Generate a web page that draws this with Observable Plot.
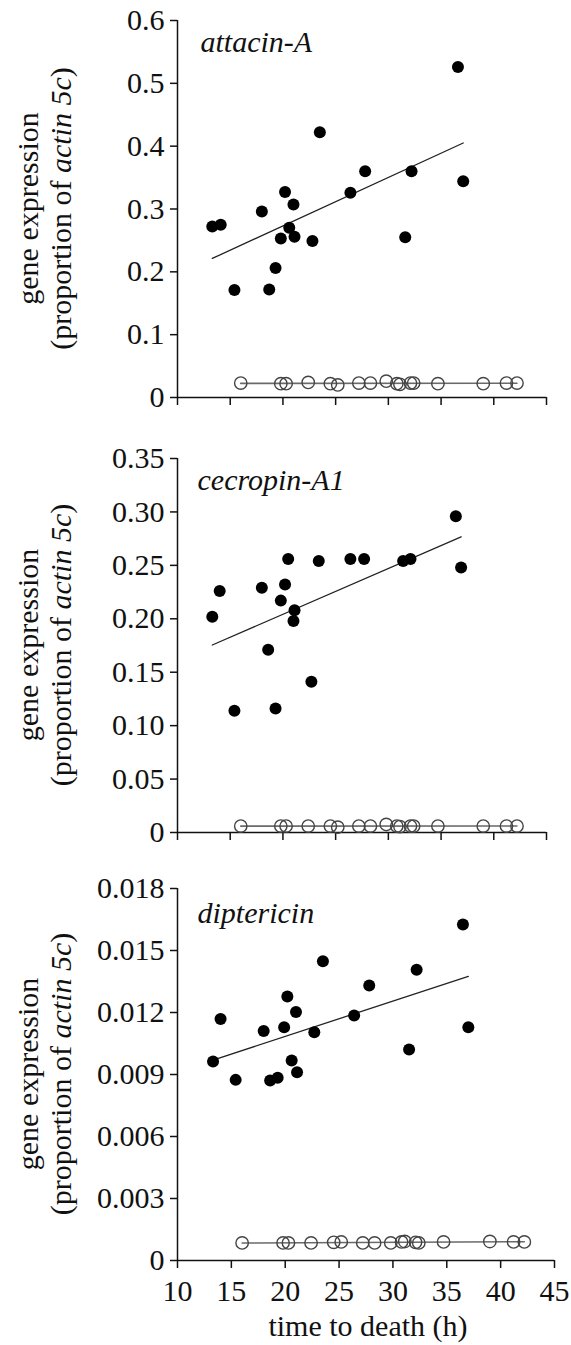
<!DOCTYPE html>
<html>
<head>
<meta charset="utf-8">
<script src="https://cdn.jsdelivr.net/npm/d3@7"></script>
<script src="https://cdn.jsdelivr.net/npm/@observablehq/plot@0.6"></script>
<style>
  html, body { margin: 0; padding: 0; background: #fff; }
  #chart svg { display: block; }
</style>
</head>
<body>
<div id="chart"></div>
<script>
// ---------- data ----------
const xDomain = [10, 45];
const xTicks = [10, 15, 20, 25, 30, 35, 40, 45];
const xTitle = "time to death (h)";

// open circles (second group) share time values
const openTimes = [16.0, 19.8, 20.3, 22.4, 24.5, 25.2, 27.2, 28.3, 29.8, 30.8, 31.1, 32.1, 32.4, 34.7, 39.0, 41.2, 42.2];

// attacin-A
const attName = "attacin-A";
const attTimes = [13.3, 14.1, 15.4, 18.0, 18.7, 19.3, 20.2, 19.8, 20.6, 21.0, 21.1, 22.8, 23.5, 26.4, 27.8, 31.6, 32.2, 36.6, 37.1];
const attValues = [0.272, 0.275, 0.171, 0.296, 0.172, 0.206, 0.327, 0.253, 0.270, 0.307, 0.256, 0.249, 0.422, 0.326, 0.360, 0.255, 0.360, 0.526, 0.344];
const attOpen = [0.023, 0.022, 0.022, 0.024, 0.022, 0.020, 0.023, 0.023, 0.026, 0.022, 0.021, 0.023, 0.023, 0.022, 0.022, 0.023, 0.023];
const attYDomain = [0, 0.6];
const attYTicks = [0, 0.1, 0.2, 0.3, 0.4, 0.5, 0.6];
const attYLabels = ["0", "0.1", "0.2", "0.3", "0.4", "0.5", "0.6"];

// cecropin-A1
const cecName = "cecropin-A1";
const cecTimes = [13.3, 14.0, 15.4, 18.0, 18.6, 19.3, 19.8, 20.2, 20.5, 21.1, 21.0, 22.7, 23.4, 26.4, 27.7, 31.4, 32.1, 36.4, 36.9];
const cecValues = [0.202, 0.226, 0.114, 0.229, 0.171, 0.116, 0.217, 0.232, 0.256, 0.208, 0.198, 0.141, 0.254, 0.256, 0.256, 0.254, 0.256, 0.296, 0.248];
const cecOpen = [0.006, 0.006, 0.006, 0.006, 0.006, 0.005, 0.006, 0.006, 0.0075, 0.006, 0.0055, 0.006, 0.006, 0.006, 0.006, 0.006, 0.006];
const cecYDomain = [0, 0.35];
const cecYTicks = [0, 0.05, 0.10, 0.15, 0.20, 0.25, 0.30, 0.35];
const cecYLabels = ["0", "0.05", "0.10", "0.15", "0.20", "0.25", "0.30", "0.35"];

// diptericin
const dipName = "diptericin";
const dipTimes = [13.3, 14.0, 15.4, 18.0, 18.6, 19.3, 19.9, 20.2, 20.6, 21.0, 21.1, 22.7, 23.5, 26.4, 27.8, 31.5, 32.2, 36.5, 37.0];
const dipValues = [0.00963, 0.01169, 0.00874, 0.01110, 0.00871, 0.00884, 0.01129, 0.01277, 0.00968, 0.01202, 0.00911, 0.01105, 0.01448, 0.01186, 0.01331, 0.01021, 0.01407, 0.01626, 0.01129];
const dipOpen = [0.00085, 0.00085, 0.00085, 0.00085, 0.00088, 0.0009, 0.00085, 0.00085, 0.00085, 0.0009, 0.00092, 0.00088, 0.00085, 0.0009, 0.00092, 0.0009, 0.0009];
const dipYDomain = [0, 0.018];
const dipYTicks = [0, 0.003, 0.006, 0.009, 0.012, 0.015, 0.018];
const dipYLabels = ["0", "0.003", "0.006", "0.009", "0.012", "0.015", "0.018"];

// ---------- drawing ----------
const FONT = "'Liberation Serif', 'Times New Roman', serif";
const FS = 30;

function regression(data, opts) {
  if (Plot.linearRegressionY) return Plot.linearRegressionY(data, {...opts, ci: 0});
  // fallback: least squares computed from the data
  const xs = data.map(d => d.t), ys = data.map(d => d.v);
  const mx = d3.mean(xs), my = d3.mean(ys);
  const b = d3.sum(xs, (x, i) => (x - mx) * (ys[i] - my)) / d3.sum(xs, x => (x - mx) ** 2);
  const ext = d3.extent(xs);
  const pts = ext.map(x => ({t: x, v: my + b * (x - mx)}));
  return Plot.line(pts, {x: "t", y: "v", stroke: opts.stroke, strokeWidth: opts.strokeWidth});
}

function panel(cfg) {
  const filled = cfg.times.map((t, i) => ({t, v: cfg.values[i]}));
  const open = openTimes.map((t, i) => ({t, v: cfg.open[i]}));
  const labelMap = new Map(cfg.yTicks.map((t, i) => [t, cfg.yLabels[i]]));
  const marks = [
    Plot.ruleY([cfg.yDomain[0]], {stroke: "#111", strokeWidth: 1.5}),
    Plot.ruleX([xDomain[0]], {stroke: "#111", strokeWidth: 1.5}),
    Plot.axisY({ticks: cfg.yTicks, tickFormat: d => labelMap.get(d), tickSize: 7, tickPadding: 6,
      fontSize: FS, label: null, stroke: "#111", strokeWidth: 1.5, fill: "#111"}),
    Plot.axisX({ticks: xTicks, tickSize: 8, tickPadding: 11,
      tickFormat: cfg.showX ? (d => String(d)) : (() => ""),
      fontSize: FS, label: null, stroke: "#111", strokeWidth: 1.5, fill: "#111"}),
    regression(open, {x: "t", y: "v", stroke: "#6a6a6a", strokeWidth: 1.6}),
    Plot.dot(open, {x: "t", y: "v", r: 6.2, stroke: "#444", strokeWidth: 1.4, fill: "none"}),
    regression(filled, {x: "t", y: "v", stroke: "#222", strokeWidth: 1.3}),
    Plot.dot(filled, {x: "t", y: "v", r: 6, fill: "#000", stroke: "none"}),
    Plot.text([cfg.name], {frameAnchor: "top-left", textAnchor: "start", lineAnchor: "middle",
      dx: cfg.nameDx, dy: cfg.nameDy, fontSize: FS, fontStyle: "italic", fill: "#111"})
  ];
  if (cfg.showX) {
    marks.push(Plot.text([xTitle], {frameAnchor: "bottom", textAnchor: "middle", lineAnchor: "bottom",
      dx: 2, dy: 75, fontSize: FS, fill: "#111"}));
  }
  const svg = Plot.plot({
    width: 571,
    height: cfg.height,
    marginLeft: 177,
    marginRight: cfg.marginRight,
    marginTop: cfg.marginTop,
    marginBottom: cfg.marginBottom,
    style: {fontFamily: FONT, fontSize: FS + "px", color: "#111", background: "#fff", overflow: "visible"},
    x: {domain: xDomain, axis: null},
    y: {domain: cfg.yDomain, axis: null},
    marks
  });
  // y-axis title (two lines, partly italic)
  const cy = cfg.marginTop + (cfg.height - cfg.marginTop - cfg.marginBottom) / 2;
  const t = d3.select(svg).append("text")
    .attr("transform", `translate(38,${cy}) rotate(-90)`)
    .attr("text-anchor", "middle")
    .attr("font-family", FONT)
    .attr("font-size", FS)
    .attr("fill", "#111");
  t.append("tspan").attr("x", 0).attr("y", 0).text("gene expression");
  const l2 = t.append("tspan").attr("x", 0).attr("y", 33);
  l2.append("tspan").text("(proportion of ");
  l2.append("tspan").attr("font-style", "italic").text("actin 5c");
  l2.append("tspan").text(")");
  return svg;
}

const root = document.getElementById("chart");
root.append(panel({name: attName, times: attTimes, values: attValues, open: attOpen,
  yDomain: attYDomain, yTicks: attYTicks, yLabels: attYLabels,
  height: 440, marginTop: 20, marginBottom: 43, marginRight: 25, showX: false, nameDx: 23, nameDy: 22}));
root.append(panel({name: cecName, times: cecTimes, values: cecValues, open: cecOpen,
  yDomain: cecYDomain, yTicks: cecYTicks, yLabels: cecYLabels,
  height: 430, marginTop: 18, marginBottom: 38, marginRight: 25, showX: false, nameDx: 20, nameDy: 22}));
root.append(panel({name: dipName, times: dipTimes, values: dipValues, open: dipOpen,
  yDomain: dipYDomain, yTicks: dipYTicks, yLabels: dipYLabels,
  height: 475, marginTop: 18, marginBottom: 85, marginRight: 17, showX: true, nameDx: 20, nameDy: 25}));
</script>
</body>
</html>
